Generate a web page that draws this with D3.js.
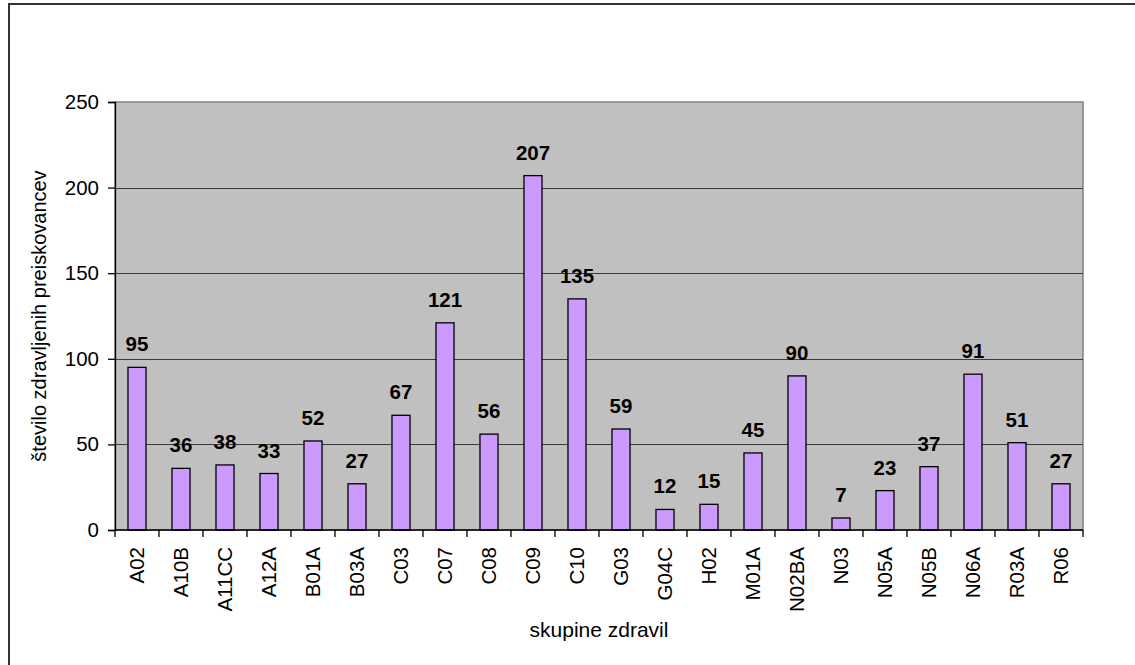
<!DOCTYPE html>
<html>
<head>
<meta charset="utf-8">
<script src="https://cdn.jsdelivr.net/npm/d3@7/dist/d3.min.js"></script>
<style>
  html, body { margin: 0; padding: 0; background: #fff; }
  svg { display: block; font-family: "Liberation Sans", Arial, sans-serif; }
</style>
</head>
<body>
<svg id="chart" width="1135" height="665"></svg>
<script>
// Drug groups (ATC codes) and number of treated respondents
const categories = ["A02", "A10B", "A11CC", "A12A", "B01A", "B03A", "C03", "C07", "C08", "C09", "C10",
                    "G03", "G04C", "H02", "M01A", "N02BA", "N03", "N05A", "N05B", "N06A", "R03A", "R06"];
const counts = [95, 36, 38, 33, 52, 27, 67, 121, 56, 207, 135, 59, 12, 15, 45, 90, 7, 23, 37, 91, 51, 27];
const yTicks = [0, 50, 100, 150, 200, 250];
const yTitle = "število zdravljenih preiskovancev";
const xTitle = "skupine zdravil";

const svg = d3.select("#chart");

// outer chart frame (continues past the right and bottom edges)
svg.append("rect")
  .attr("x", 9).attr("y", 4)
  .attr("width", 1200).attr("height", 700)
  .attr("fill", "#fff")
  .attr("stroke", "#333").attr("stroke-width", 2);

const plot = { left: 115, right: 1083, top: 102, bottom: 530 };

const x = d3.scaleBand()
  .domain(categories)
  .range([plot.left, plot.right])
  .paddingInner(0.59)
  .paddingOuter(0.295);

const y = d3.scaleLinear()
  .domain([0, 250])
  .range([plot.bottom, plot.top]);

// plot area background
svg.append("rect")
  .attr("x", plot.left).attr("y", plot.top)
  .attr("width", plot.right - plot.left).attr("height", plot.bottom - plot.top)
  .attr("fill", "#C0C0C0")
  .attr("stroke", "#808080").attr("stroke-width", 1.5);

// horizontal gridlines
svg.append("g")
  .selectAll("line")
  .data(yTicks.filter(t => t > 0 && t < 250))
  .join("line")
  .attr("x1", plot.left).attr("x2", plot.right)
  .attr("y1", d => Math.round(y(d)) + 0.5).attr("y2", d => Math.round(y(d)) + 0.5)
  .attr("stroke", "#3a3a3a").attr("stroke-width", 1);

// bars
svg.append("g")
  .selectAll("rect")
  .data(categories.map((c, i) => ({ c, v: counts[i] })))
  .join("rect")
  .attr("x", d => x(d.c))
  .attr("y", d => y(d.v))
  .attr("width", x.bandwidth())
  .attr("height", d => y(0) - y(d.v))
  .attr("fill", "#CC99FF")
  .attr("stroke", "#000").attr("stroke-width", 1.3);

// value labels
svg.append("g")
  .selectAll("text")
  .data(categories.map((c, i) => ({ c, v: counts[i] })))
  .join("text")
  .attr("x", d => x(d.c) + x.bandwidth() / 2)
  .attr("y", d => y(d.v) - 16)
  .attr("text-anchor", "middle")
  .attr("font-size", 20.5)
  .attr("font-weight", "bold")
  .attr("fill", "#000")
  .text(d => d.v);

// y axis
const yAxis = svg.append("g")
  .attr("transform", `translate(${plot.left},0)`)
  .call(d3.axisLeft(y).tickValues(yTicks).tickSize(7).tickPadding(9));
yAxis.select(".domain").attr("stroke", "#000").attr("stroke-width", 1.3);
yAxis.selectAll(".tick line").attr("stroke", "#000").attr("stroke-width", 1.3);
yAxis.selectAll(".tick text")
  .attr("font-size", 20.5).attr("fill", "#000")
  .attr("font-family", "Liberation Sans, Arial, sans-serif");

// x axis: baseline plus tick marks on category boundaries
const step = x.step();
const boundaries = categories.map(c => x(c) - (step - x.bandwidth()) / 2).concat([plot.right]);
const xAxis = svg.append("g");
xAxis.append("line")
  .attr("x1", plot.left).attr("x2", plot.right)
  .attr("y1", plot.bottom).attr("y2", plot.bottom)
  .attr("stroke", "#000").attr("stroke-width", 1.3);
xAxis.selectAll("line.tk")
  .data(boundaries)
  .join("line")
  .attr("class", "tk")
  .attr("x1", d => d).attr("x2", d => d)
  .attr("y1", plot.bottom).attr("y2", plot.bottom + 7)
  .attr("stroke", "#000").attr("stroke-width", 1.3);
xAxis.selectAll("text")
  .data(categories)
  .join("text")
  .attr("transform", d => `translate(${x(d) + x.bandwidth() / 2},547) rotate(-90)`)
  .attr("text-anchor", "end")
  .attr("dy", "0.35em")
  .attr("font-size", 20.5)
  .attr("fill", "#000")
  .text(d => d);

// axis titles
svg.append("text")
  .attr("x", (plot.left + plot.right) / 2)
  .attr("y", 637)
  .attr("text-anchor", "middle")
  .attr("font-size", 21)
  .attr("fill", "#000")
  .text(xTitle);

svg.append("text")
  .attr("transform", `translate(46,${(plot.top + plot.bottom) / 2}) rotate(-90)`)
  .attr("text-anchor", "middle")
  .attr("font-size", 20)
  .attr("fill", "#000")
  .text(yTitle);
</script>
</body>
</html>
